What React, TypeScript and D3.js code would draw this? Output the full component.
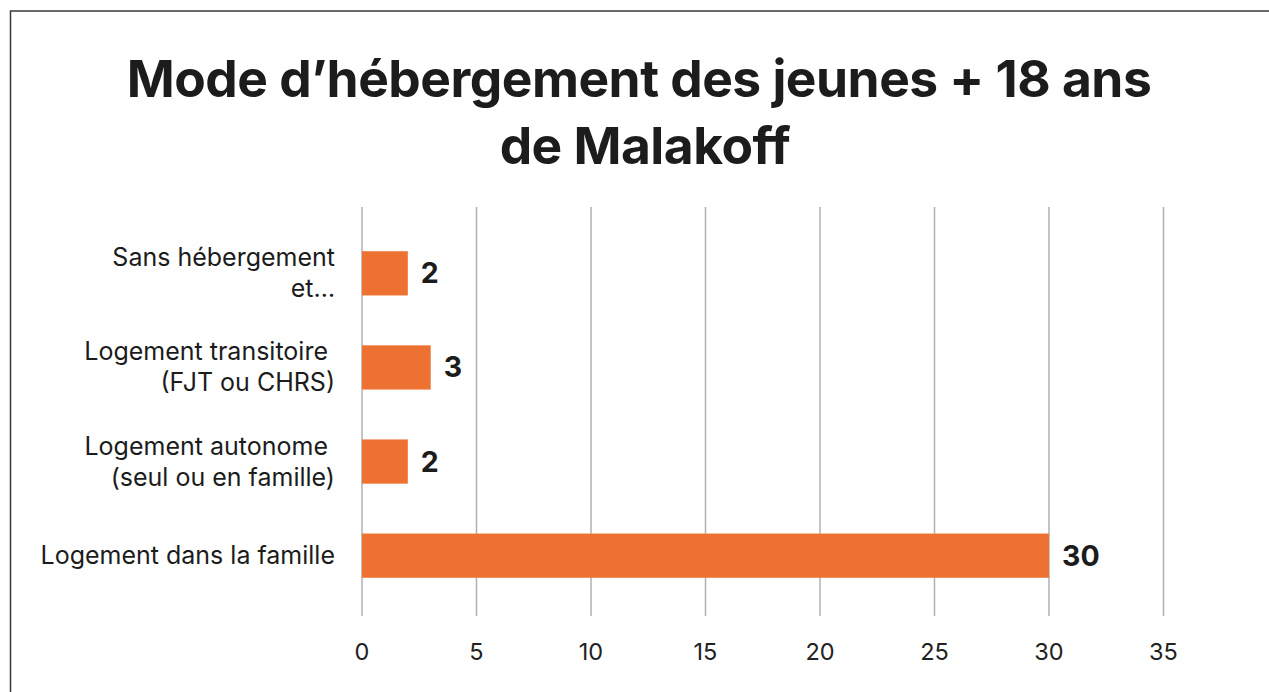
import React from "react";
import * as d3 from "d3";

const categories = [
  ["Sans hébergement", "et…"],
  ["Logement transitoire ", "(FJT ou CHRS)"],
  ["Logement autonome ", "(seul ou en famille)"],
  ["Logement dans la famille"],
];
const values = [2, 3, 2, 30];
const xTicks = [0, 5, 10, 15, 20, 25, 30, 35];
const titleLines = ["Mode d’hébergement des jeunes + 18 ans", "de Malakoff"];

const W = 1269;
const H = 692;
const FONT = "Inter, 'Liberation Sans', Arial, sans-serif";

export default function App() {
  const x = d3.scaleLinear().domain([0, 35]).range([362, 1163.5]);
  const y = d3
    .scaleBand<number>()
    .domain(d3.range(categories.length))
    .range([207, 622])
    .paddingInner(0.53)
    .paddingOuter(0.47);
  const gridTop = 207;
  const gridBottom = 616;

  return (
    <svg
      width={W}
      height={H}
      style={{ position: "fixed", left: 0, top: 0, background: "#fff" }}
      fontFamily={FONT}
    >
      <rect x={10.5} y={11} width={1300} height={700} fill="#fff" stroke="#3a3a3a" strokeWidth={1.5} />
      {titleLines.map((t, i) => (
        <text
          key={i}
          x={639 + i * 6}
          y={97 + i * 67}
          textAnchor="middle"
          fontSize={51.5}
          fontWeight={700}
          fill="#1c1c1c"
          letterSpacing={-0.5}
        >
          {t}
        </text>
      ))}
      {xTicks.map((t) => (
        <g key={t}>
          <line x1={x(t)} x2={x(t)} y1={gridTop} y2={gridBottom} stroke="#b0b0b0" strokeWidth={1.5} />
          <text x={x(t)} y={659.5} textAnchor="middle" fontSize={23.5} fill="#222">
            {t}
          </text>
        </g>
      ))}
      {values.map((v, i) => {
        const y0 = y(i)!;
        const bw = y.bandwidth();
        const cy = y0 + bw / 2;
        const lines = categories[i];
        const lh = 31;
        return (
          <g key={i}>
            <rect x={x(0)} y={y0} width={x(v) - x(0)} height={bw} fill="#ED7131" />
            <text x={x(v) + 13} y={cy + 10} fontSize={28.5} fontWeight={700} fill="#1c1c1c">
              {v}
            </text>
            {lines.map((l, j) => (
              <text
                key={j}
                x={335}
                y={cy + (j - (lines.length - 1) / 2) * lh + 8.5}
                textAnchor="end"
                fontSize={25}
                fill="#1c1c1c"
                style={{ whiteSpace: "pre" }}
              >
                {l}
              </text>
            ))}
          </g>
        );
      })}
    </svg>
  );
}
